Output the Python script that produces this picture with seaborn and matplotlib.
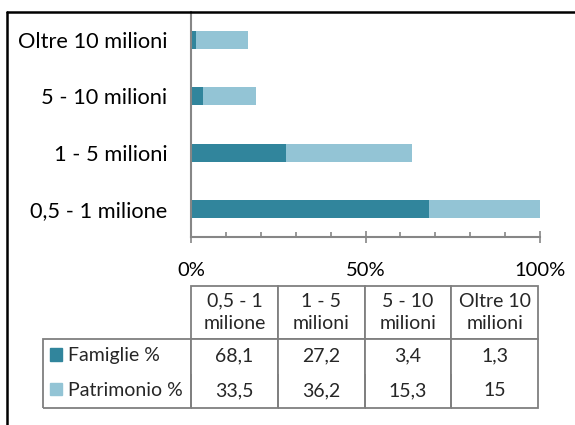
import matplotlib
matplotlib.use('Agg')
import matplotlib.pyplot as plt
import matplotlib.patches as mpatches
from matplotlib.lines import Line2D
from matplotlib.ticker import MultipleLocator, PercentFormatter
import seaborn as sns
import pandas as pd

# dati
categorie = ['0,5 - 1 milione', '1 - 5 milioni', '5 - 10 milioni', 'Oltre 10 milioni']
famiglie = [68.1, 27.2, 3.4, 1.3]
patrimonio = [33.5, 36.2, 15.3, 15]
serie = ['Famiglie %', 'Patrimonio %']
colori = ['#31859C', '#93C4D5']

df = pd.DataFrame({'fascia': categorie, 'famiglie': famiglie, 'patrimonio': patrimonio})
df['cumulato'] = df['famiglie'] + df['patrimonio']
ordine = categorie[::-1]

sns.set_theme(style='white')
plt.rcParams['font.family'] = ['Lato', 'DejaVu Sans']
GRIGIO = '#868686'

fig = plt.figure(figsize=(5.75, 4.25), dpi=100)
ax = fig.add_axes([191/575, 1 - 237/425, 349/575, 225/425])

# barre impilate: prima il totale (chiaro), poi le famiglie (scuro)
sns.barplot(data=df, y='fascia', x='cumulato', order=ordine, color=colori[1],
            saturation=1, width=0.32, linewidth=0, ax=ax)
sns.barplot(data=df, y='fascia', x='famiglie', order=ordine, color=colori[0],
            saturation=1, width=0.32, linewidth=0, ax=ax)

ax.set_xlim(0, 100)
ax.set_xlabel('')
ax.set_ylabel('')
ax.xaxis.set_major_locator(MultipleLocator(50))
ax.xaxis.set_minor_locator(MultipleLocator(10))
ax.xaxis.set_major_formatter(PercentFormatter(xmax=100, decimals=0))
ax.tick_params(axis='x', which='major', bottom=True, direction='inout', length=9,
               width=1.2, color=GRIGIO, pad=13.5, labelsize=14.5, labelcolor='black')
ax.tick_params(axis='x', which='minor', bottom=True, direction='in', length=3.6,
               width=1.2, color=GRIGIO)
ax.tick_params(axis='y', left=False, pad=11, labelsize=15.7, labelcolor='black')
for s in ['top', 'right']:
    ax.spines[s].set_visible(False)
for s in ['left', 'bottom']:
    ax.spines[s].set_color(GRIGIO)
    ax.spines[s].set_linewidth(1.5)

# tabella dati
def fmt(v):
    return f'{v:g}'.replace('.', ',')

intestazioni = [c.rsplit(' ', 1)[0] + '\n' + c.rsplit(' ', 1)[1] for c in categorie]
celle = [[fmt(v) for v in famiglie], [fmt(v) for v in patrimonio]]

LARGH_TAB, ALT_TAB = 495, 122
tax = fig.add_axes([43/575, 1 - 408/425, LARGH_TAB/575, ALT_TAB/425])
tax.axis('off')
tab = tax.table(cellText=celle, colLabels=intestazioni, cellLoc='center', colLoc='center',
                bbox=[148/LARGH_TAB, 0, 347/LARGH_TAB, 1])
for r in (1, 2):
    tab.add_cell(r, -1, width=148/LARGH_TAB, height=34.5/ALT_TAB, text='')
tab.auto_set_font_size(False)
tab.set_fontsize(14)
for (r, c), cell in tab.get_celld().items():
    cell.set_edgecolor('#7F7F7F')
    cell.set_linewidth(1.3)
    cell.set_width((148 if c == -1 else 86.75) / LARGH_TAB)
    cell.set_height((53 if r == 0 else 34.5) / ALT_TAB)
    cell.get_text().set_linespacing(1.4)
    if r == 1:
        cell.visible_edges = 'TLR'
    elif r == 2:
        cell.visible_edges = 'BLR'

handles = [mpatches.Patch(color=col, label=s) for col, s in zip(colori, serie)]
fig.legend(handles=handles, loc='center left', bbox_to_anchor=(50/575, 1 - 373/425),
           frameon=False, fontsize=14, handlelength=0.6, handleheight=0.6,
           handletextpad=0.3, labelspacing=0.9, borderpad=0, borderaxespad=0)

# cornice esterna
fig.add_artist(Line2D([6.5/575, 1], [1 - 12/425] * 2, transform=fig.transFigure,
                      color='black', lw=1.8))
fig.add_artist(Line2D([6.5/575] * 2, [0, 1 - 12/425], transform=fig.transFigure,
                      color='black', lw=1.8))

fig.savefig('out.png', dpi=100, facecolor='white')
